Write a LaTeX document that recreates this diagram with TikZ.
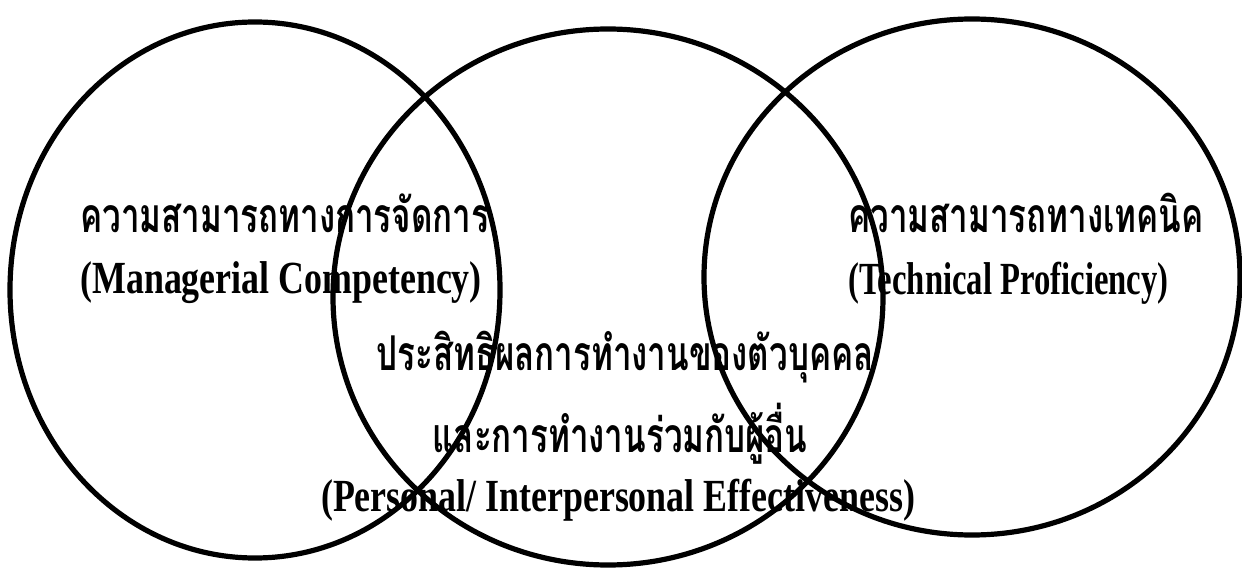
\documentclass[tikz,border=0pt]{standalone}
\usepackage{fontspec}
\setmainfont{Liberation Serif}
\newfontfamily\thaifont[Script=Thai]{Loma}
\usetikzlibrary{positioning}

\begin{document}
\begin{tikzpicture}[
   x=0.5pt, y=0.5pt,
   ring/.style={line width=2.6pt},
   thlab/.style={font=\thaifont\bfseries\fontsize{24}{28}\selectfont, inner sep=0pt,
                 xscale=0.69, transform shape},
   enlab/.style={font=\bfseries\fontsize{23}{27}\selectfont, inner sep=0pt,
                 xscale=0.78, transform shape}]
  \useasboundingbox (0,0) rectangle (1242,568);
  % three competency areas
  \draw[ring] (255,278) ellipse [x radius=245, y radius=268];
  \draw[ring] (608,271) ellipse [x radius=275, y radius=268];
  \draw[ring] (972,291) ellipse [x radius=268, y radius=258];
  % labels
  \node[thlab, anchor=west] (mgth) at (80,355) {ความสามารถทางการจัดการ};
  \node[enlab, anchor=west] (mgen) at (80,285) {(Managerial Competency)};
  \node[thlab, anchor=west] (tcth) at (848,355) {ความสามารถทางเทคนิค};
  \node[enlab, anchor=west, xscale=0.91] (tcen) at (848,285) {(Technical Proficiency)};
  \node[thlab] (psth) at (625,211) {ประสิทธิผลการทำงานของตัวบุคคล};
  \node[thlab] (psth2) at (620,134) {และการทำงานร่วมกับผู้อื่น};
  \node[enlab] (psen) at (618,68) {(Personal/ Interpersonal Effectiveness)};
\end{tikzpicture}
\end{document}
